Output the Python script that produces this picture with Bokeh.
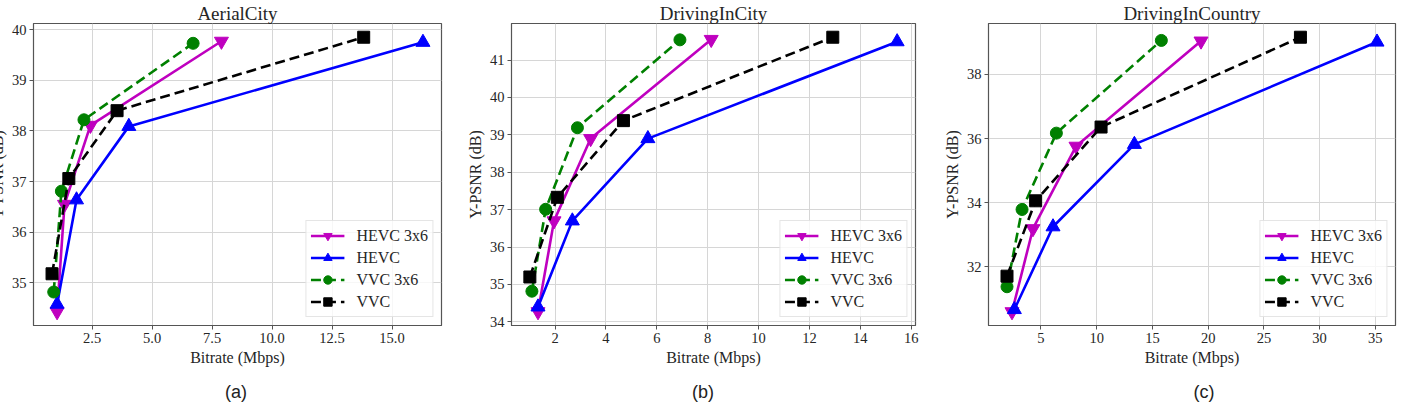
from bokeh.plotting import figure
from bokeh.models import Range1d, FixedTicker, PrintfTickFormatter, Title, Div
from bokeh.layouts import row, column
from bokeh.embed import file_html
from bokeh.resources import INLINE

SERIF = "Liberation Serif"
SANS = "Liberation Sans"

codec_labels = ["HEVC 3x6", "HEVC", "VVC 3x6", "VVC"]
captions = ["(a)", "(b)", "(c)"]

# AerialCity: bitrate (Mbps) and Y-PSNR (dB) per codec
aerial_hevc3x6_rate = [1.04, 1.35, 2.43, 7.89]
aerial_hevc3x6_psnr = [34.43, 36.55, 38.11, 39.77]
aerial_hevc_rate = [1.04, 1.85, 4.03, 16.29]
aerial_hevc_psnr = [34.58, 36.64, 38.09, 39.75]
aerial_vvc3x6_rate = [0.90, 1.22, 2.16, 6.71]
aerial_vvc3x6_psnr = [34.82, 36.81, 38.22, 39.73]
aerial_vvc_rate = [0.83, 1.53, 3.54, 13.82]
aerial_vvc_psnr = [35.18, 37.06, 38.40, 39.85]

# DrivingInCity
city_hevc3x6_rate = [1.33, 1.96, 3.40, 8.14]
city_hevc3x6_psnr = [34.27, 36.70, 38.90, 41.55]
city_hevc_rate = [1.33, 2.68, 5.65, 15.45]
city_hevc_psnr = [34.40, 36.70, 38.90, 41.49]
city_vvc3x6_rate = [1.09, 1.63, 2.88, 6.91]
city_vvc3x6_psnr = [34.82, 37.01, 39.19, 41.54]
city_vvc_rate = [1.01, 2.09, 4.69, 12.92]
city_vvc_psnr = [35.20, 37.33, 39.38, 41.61]

# DrivingInCountry
country_hevc3x6_rate = [2.40, 4.28, 8.14, 19.36]
country_hevc3x6_psnr = [30.60, 33.19, 35.76, 39.04]
country_hevc_rate = [2.61, 6.08, 13.38, 35.15]
country_hevc_psnr = [30.67, 33.25, 35.82, 39.01]
country_vvc3x6_rate = [1.95, 3.30, 6.38, 15.80]
country_vvc3x6_psnr = [31.38, 33.79, 36.17, 39.06]
country_vvc_rate = [1.95, 4.52, 10.39, 28.28]
country_vvc_psnr = [31.71, 34.06, 36.36, 39.16]

aerial_xticks = [2.5, 5.0, 7.5, 10.0, 12.5, 15.0]
aerial_yticks = [35, 36, 37, 38, 39, 40]
city_xticks = [2, 4, 6, 8, 10, 12, 14, 16]
city_yticks = [34, 35, 36, 37, 38, 39, 40, 41, 42]
country_xticks = [5, 10, 15, 20, 25, 30, 35]
country_yticks = [32, 34, 36, 38]

COLORS = ["#bf00bf", "#0000ff", "#008000", "#000000"]
MARKERS = ["inverted_triangle", "triangle", "circle", "square"]
MARKER_SIZES = [14, 14, 12, 12]
DASHES = ["solid", "solid", "10 5", "10 5"]
FRAME = "#555555"
TEXT = "#262626"
LEFT = 54          # room for tick labels and the y-axis title
PLOT_H = 375       # figure height; the caption strip sits underneath
CAPTION_H = 29


def padded(values, frac=0.05):
    lo, hi = min(values), max(values)
    pad = (hi - lo) * frac
    return Range1d(lo - pad, hi + pad)


def style_axis(ax, label):
    ax.axis_label = label
    ax.axis_line_color = FRAME
    ax.major_tick_line_color = FRAME
    ax.major_tick_in = 0
    ax.major_tick_out = 4
    ax.minor_tick_line_color = None
    ax.major_label_text_font = SERIF
    ax.major_label_text_font_size = "14.5px"
    ax.major_label_text_color = TEXT
    ax.major_label_standoff = 3
    ax.axis_label_text_font = SERIF
    ax.axis_label_text_font_size = "16px"
    ax.axis_label_text_font_style = "normal"
    ax.axis_label_text_color = TEXT
    ax.axis_label_standoff = 3


def make_panel(title, series, xticks, yticks, xfmt, width, right,
               margin=None):
    all_x = [v for s in series for v in s[0]]
    all_y = [v for s in series for v in s[1]]
    head = Title(text=title, align="center", text_font=SERIF,
                 text_font_size="19px", text_font_style="normal",
                 text_color=TEXT, standoff=0)
    p = figure(width=width, height=PLOT_H, output_backend="svg",
               toolbar_location=None, title=head,
               x_range=padded(all_x), y_range=padded(all_y),
               min_border_left=LEFT, min_border_right=right,
               min_border_top=23, min_border_bottom=50)
    if margin is not None:
        p.margin = margin

    for (xs, ys), label, color, marker, msize, dash in zip(
            series, codec_labels, COLORS, MARKERS, MARKER_SIZES, DASHES):
        p.line(xs, ys, line_color=color, line_width=2.6, line_dash=dash,
               legend_label=label)
        p.scatter(xs, ys, marker=marker, size=msize, fill_color=color,
                  line_color=color, legend_label=label)

    xax = p.xaxis[0]
    yax = p.yaxis[0]
    xax.ticker = FixedTicker(ticks=xticks)
    yax.ticker = FixedTicker(ticks=yticks)
    if xfmt:
        xax.formatter = PrintfTickFormatter(format=xfmt)
    style_axis(xax, "Bitrate (Mbps)")
    style_axis(yax, "Y-PSNR (dB)")
    for g in p.grid:
        g.grid_line_color = "#d6d6d6"
        g.grid_line_width = 1
    p.outline_line_color = FRAME
    p.outline_line_width = 1.2

    lg = p.legend[0]
    lg.location = "bottom_right"
    lg.margin = 8
    lg.padding = 4
    lg.spacing = 1
    lg.glyph_width = 34
    lg.glyph_height = 21
    lg.label_height = 21
    lg.label_standoff = 12
    lg.label_text_font = SERIF
    lg.label_text_font_size = "16px"
    lg.label_text_color = TEXT
    lg.border_line_color = "#cccccc"
    lg.background_fill_alpha = 0.8
    return p


# panel widths, right borders and the page offset of the first panel
widths = [478, 477, 467]
rights = [16, 19, 6]
first_shift = -21

pa = make_panel("AerialCity",
                [(aerial_hevc3x6_rate, aerial_hevc3x6_psnr),
                 (aerial_hevc_rate, aerial_hevc_psnr),
                 (aerial_vvc3x6_rate, aerial_vvc3x6_psnr),
                 (aerial_vvc_rate, aerial_vvc_psnr)],
                aerial_xticks, aerial_yticks, "%.1f",
                width=widths[0], right=rights[0],
                margin=(0, 0, 0, first_shift))
pb = make_panel("DrivingInCity",
                [(city_hevc3x6_rate, city_hevc3x6_psnr),
                 (city_hevc_rate, city_hevc_psnr),
                 (city_vvc3x6_rate, city_vvc3x6_psnr),
                 (city_vvc_rate, city_vvc_psnr)],
                city_xticks, city_yticks, None,
                width=widths[1], right=rights[1])
pc = make_panel("DrivingInCountry",
                [(country_hevc3x6_rate, country_hevc3x6_psnr),
                 (country_hevc_rate, country_hevc_psnr),
                 (country_vvc3x6_rate, country_vvc3x6_psnr),
                 (country_vvc_rate, country_vvc_psnr)],
                country_xticks, country_yticks, None,
                width=widths[2], right=rights[2])

# caption strip: each caption sits near the centre of its sub-figure
caption_nudge = [-1, -10, 12]
spans = []
start = first_shift
for cap, w, r, nudge in zip(captions, widths, rights, caption_nudge):
    frame_w = w - LEFT - r
    cx = start + LEFT + frame_w / 2 + nudge
    spans.append(
        f'<span style="position:absolute;left:{cx:.0f}px;top:3px;'
        f'transform:translateX(-50%);">{cap}</span>')
    start += w
total_w = sum(widths) + first_shift
strip = Div(
    text=(f'<div style="position:relative;width:{total_w}px;'
          f'height:{CAPTION_H}px;font-family:\'Liberation Sans\';'
          f'font-size:18px;line-height:{CAPTION_H}px;color:#222222;">'
          + "".join(spans) + '</div>'),
    width=total_w, height=CAPTION_H, margin=0)

layout = column(row(pa, pb, pc, spacing=0), strip, spacing=0)
open("out.html", "w").write(file_html(layout, INLINE))
